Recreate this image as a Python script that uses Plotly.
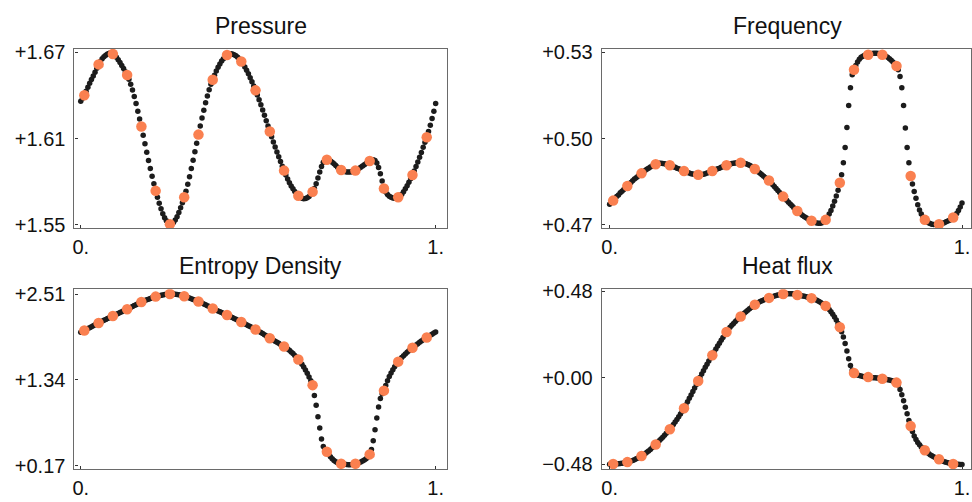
import numpy as np
import plotly.graph_objects as go

# ---------------- data ----------------
titles = ["Pressure", "Frequency", "Entropy Density", "Heat flux"]
x_fine = np.linspace(0, 1, 200)
sample_idx = list(range(2, 200, 8))  # coarse samples (25)

pressure_fine = [
    1.6360, 1.6382, 1.6402, 1.6430, 1.6458, 1.6485, 1.6512, 1.6537, 1.6562, 1.6590,
    1.6617, 1.6638, 1.6656, 1.6670, 1.6681, 1.6690, 1.6695, 1.6696, 1.6689, 1.6679,
    1.6666, 1.6650, 1.6631, 1.6610, 1.6588, 1.6566, 1.6543, 1.6513, 1.6479, 1.6439,
    1.6394, 1.6344, 1.6291, 1.6237, 1.6184, 1.6124, 1.6064, 1.6005, 1.5947, 1.5891,
    1.5837, 1.5785, 1.5736, 1.5691, 1.5649, 1.5611, 1.5577, 1.5549, 1.5528, 1.5514,
    1.5504, 1.5506, 1.5516, 1.5533, 1.5556, 1.5585, 1.5618, 1.5653, 1.5691, 1.5734,
    1.5782, 1.5835, 1.5891, 1.5949, 1.6008, 1.6068, 1.6128, 1.6187, 1.6244, 1.6298,
    1.6349, 1.6397, 1.6440, 1.6478, 1.6510, 1.6542, 1.6571, 1.6597, 1.6620, 1.6640,
    1.6657, 1.6671, 1.6682, 1.6689, 1.6692, 1.6690, 1.6685, 1.6677, 1.6667, 1.6653,
    1.6637, 1.6619, 1.6599, 1.6576, 1.6551, 1.6524, 1.6496, 1.6466, 1.6436, 1.6404,
    1.6370, 1.6335, 1.6299, 1.6262, 1.6225, 1.6188, 1.6150, 1.6113, 1.6077, 1.6042,
    1.6007, 1.5973, 1.5940, 1.5908, 1.5877, 1.5847, 1.5819, 1.5793, 1.5770, 1.5750,
    1.5732, 1.5716, 1.5702, 1.5691, 1.5684, 1.5681, 1.5682, 1.5688, 1.5697, 1.5711,
    1.5729, 1.5752, 1.5785, 1.5825, 1.5868, 1.5906, 1.5935, 1.5950, 1.5953, 1.5950,
    1.5944, 1.5935, 1.5925, 1.5913, 1.5901, 1.5890, 1.5881, 1.5875, 1.5871, 1.5868,
    1.5867, 1.5867, 1.5869, 1.5872, 1.5877, 1.5884, 1.5892, 1.5900, 1.5909, 1.5918,
    1.5927, 1.5936, 1.5944, 1.5950, 1.5953, 1.5948, 1.5930, 1.5898, 1.5855, 1.5805,
    1.5753, 1.5728, 1.5711, 1.5699, 1.5691, 1.5686, 1.5684, 1.5685, 1.5691, 1.5700,
    1.5713, 1.5730, 1.5750, 1.5772, 1.5796, 1.5821, 1.5847, 1.5875, 1.5905, 1.5937,
    1.5970, 1.6004, 1.6039, 1.6074, 1.6110, 1.6150, 1.6193, 1.6240, 1.6290, 1.6345,
]
frequency_fine = [
    0.4771, 0.4778, 0.4784, 0.4791, 0.4798, 0.4804, 0.4811, 0.4817, 0.4823, 0.4829,
    0.4835, 0.4841, 0.4847, 0.4853, 0.4859, 0.4864, 0.4869, 0.4874, 0.4879, 0.4884,
    0.4889, 0.4893, 0.4897, 0.4901, 0.4905, 0.4908, 0.4911, 0.4913, 0.4914, 0.4914,
    0.4913, 0.4912, 0.4911, 0.4909, 0.4907, 0.4905, 0.4902, 0.4900, 0.4897, 0.4895,
    0.4892, 0.4890, 0.4887, 0.4885, 0.4882, 0.4880, 0.4878, 0.4877, 0.4875, 0.4874,
    0.4874, 0.4874, 0.4875, 0.4876, 0.4878, 0.4880, 0.4882, 0.4885, 0.4887, 0.4890,
    0.4892, 0.4895, 0.4897, 0.4900, 0.4902, 0.4905, 0.4907, 0.4909, 0.4911, 0.4913,
    0.4914, 0.4915, 0.4916, 0.4916, 0.4916, 0.4915, 0.4914, 0.4912, 0.4910, 0.4907,
    0.4904, 0.4899, 0.4894, 0.4889, 0.4884, 0.4879, 0.4874, 0.4869, 0.4864, 0.4859,
    0.4854, 0.4847, 0.4840, 0.4833, 0.4826, 0.4819, 0.4812, 0.4805, 0.4798, 0.4791,
    0.4785, 0.4778, 0.4772, 0.4766, 0.4759, 0.4754, 0.4748, 0.4742, 0.4737, 0.4732,
    0.4728, 0.4724, 0.4720, 0.4717, 0.4714, 0.4711, 0.4708, 0.4706, 0.4705, 0.4705,
    0.4707, 0.4711, 0.4717, 0.4725, 0.4737, 0.4750, 0.4765, 0.4782, 0.4800, 0.4820,
    0.4846, 0.4874, 0.4916, 0.4969, 0.5039, 0.5115, 0.5177, 0.5222, 0.5240, 0.5255,
    0.5267, 0.5276, 0.5283, 0.5287, 0.5290, 0.5292, 0.5292, 0.5294, 0.5296, 0.5297,
    0.5297, 0.5297, 0.5296, 0.5294, 0.5292, 0.5290, 0.5287, 0.5283, 0.5278, 0.5273,
    0.5267, 0.5260, 0.5253, 0.5240, 0.5216, 0.5177, 0.5115, 0.5037, 0.4969, 0.4916,
    0.4870, 0.4842, 0.4816, 0.4792, 0.4770, 0.4751, 0.4737, 0.4726, 0.4717, 0.4711,
    0.4707, 0.4704, 0.4702, 0.4701, 0.4701, 0.4701, 0.4702, 0.4703, 0.4705, 0.4707,
    0.4710, 0.4713, 0.4716, 0.4720, 0.4725, 0.4731, 0.4739, 0.4750, 0.4762, 0.4776,
]
entropy_fine = [
    1.9880, 2.0010, 2.0135, 2.0262, 2.0389, 2.0515, 2.0642, 2.0769, 2.0895, 2.1022,
    2.1149, 2.1269, 2.1389, 2.1509, 2.1630, 2.1750, 2.1870, 2.1990, 2.2110, 2.2225,
    2.2341, 2.2456, 2.2571, 2.2686, 2.2802, 2.2917, 2.3032, 2.3154, 2.3276, 2.3398,
    2.3520, 2.3641, 2.3763, 2.3885, 2.4007, 2.4112, 2.4212, 2.4308, 2.4400, 2.4488,
    2.4576, 2.4661, 2.4744, 2.4815, 2.4878, 2.4933, 2.4980, 2.5020, 2.5052, 2.5076,
    2.5092, 2.5100, 2.5089, 2.5067, 2.5035, 2.4992, 2.4938, 2.4873, 2.4797, 2.4714,
    2.4628, 2.4540, 2.4451, 2.4360, 2.4269, 2.4178, 2.4086, 2.3976, 2.3865, 2.3750,
    2.3632, 2.3510, 2.3386, 2.3257, 2.3124, 2.3010, 2.2897, 2.2785, 2.2674, 2.2564,
    2.2455, 2.2348, 2.2242, 2.2130, 2.2015, 2.1897, 2.1776, 2.1653, 2.1530, 2.1405,
    2.1281, 2.1157, 2.1033, 2.0908, 2.0782, 2.0656, 2.0528, 2.0398, 2.0267, 2.0130,
    1.9990, 1.9847, 1.9701, 1.9552, 1.9399, 1.9241, 1.9081, 1.8940, 1.8799, 1.8658,
    1.8516, 1.8375, 1.8233, 1.8091, 1.7949, 1.7789, 1.7609, 1.7419, 1.7209, 1.6979,
    1.6729, 1.6469, 1.6184, 1.5874, 1.5534, 1.5154, 1.4734, 1.4284, 1.3794, 1.3264,
    1.2681, 1.1270, 0.9950, 0.8370, 0.6830, 0.5340, 0.4300, 0.3800, 0.3593, 0.3250,
    0.2930, 0.2650, 0.2420, 0.2230, 0.2090, 0.2000, 0.1960, 0.1920, 0.1880, 0.1850,
    0.1840, 0.1840, 0.1860, 0.1900, 0.1960, 0.2030, 0.2110, 0.2210, 0.2330, 0.2470,
    0.2640, 0.2880, 0.3238, 0.3900, 0.5100, 0.6600, 0.8200, 0.9700, 1.0850, 1.1500,
    1.1930, 1.2630, 1.3270, 1.3840, 1.4340, 1.4790, 1.5190, 1.5560, 1.5881, 1.6181,
    1.6451, 1.6701, 1.6931, 1.7151, 1.7361, 1.7561, 1.7764, 1.7959, 1.8149, 1.8334,
    1.8512, 1.8684, 1.8851, 1.9013, 1.9173, 1.9325, 1.9478, 1.9628, 1.9777, 1.9924,
]
heat_fine = [
    -0.4810, -0.4806, -0.4800, -0.4795, -0.4789, -0.4781, -0.4770, -0.4756, -0.4738, -0.4716,
    -0.4692, -0.4664, -0.4632, -0.4596, -0.4555, -0.4509, -0.4461, -0.4409, -0.4354, -0.4292,
    -0.4224, -0.4150, -0.4070, -0.3984, -0.3894, -0.3803, -0.3709, -0.3611, -0.3511, -0.3408,
    -0.3303, -0.3196, -0.3087, -0.2977, -0.2866, -0.2741, -0.2607, -0.2466, -0.2320, -0.2170,
    -0.2016, -0.1860, -0.1700, -0.1520, -0.1335, -0.1147, -0.0956, -0.0763, -0.0569, -0.0375,
    -0.0180, 0.0014, 0.0206, 0.0394, 0.0578, 0.0756, 0.0928, 0.1094, 0.1254, 0.1426,
    0.1596, 0.1762, 0.1924, 0.2084, 0.2240, 0.2394, 0.2544, 0.2679, 0.2803, 0.2917,
    0.3022, 0.3122, 0.3218, 0.3312, 0.3403, 0.3493, 0.3581, 0.3666, 0.3749, 0.3830,
    0.3910, 0.3988, 0.4064, 0.4128, 0.4186, 0.4238, 0.4285, 0.4327, 0.4367, 0.4405,
    0.4440, 0.4475, 0.4508, 0.4539, 0.4568, 0.4595, 0.4619, 0.4639, 0.4655, 0.4666,
    0.4673, 0.4675, 0.4672, 0.4665, 0.4652, 0.4631, 0.4601, 0.4584, 0.4566, 0.4546,
    0.4525, 0.4502, 0.4477, 0.4451, 0.4424, 0.4389, 0.4349, 0.4304, 0.4254, 0.4197,
    0.4134, 0.4067, 0.3994, 0.3904, 0.3794, 0.3669, 0.3529, 0.3374, 0.3204, 0.3019,
    0.2812, 0.2560, 0.2260, 0.1900, 0.1490, 0.1060, 0.0680, 0.0420, 0.0266, 0.0200,
    0.0155, 0.0120, 0.0095, 0.0075, 0.0060, 0.0047, 0.0035, 0.0025, 0.0015, 0.0005,
    -0.0005, -0.0016, -0.0028, -0.0041, -0.0056, -0.0072, -0.0090, -0.0110, -0.0132, -0.0158,
    -0.0188, -0.0226, -0.0271, -0.0400, -0.0650, -0.0950, -0.1280, -0.1640, -0.2000, -0.2380,
    -0.2689, -0.2989, -0.3239, -0.3439, -0.3599, -0.3729, -0.3849, -0.3949, -0.4032, -0.4122,
    -0.4204, -0.4276, -0.4341, -0.4399, -0.4449, -0.4494, -0.4531, -0.4581, -0.4626, -0.4666,
    -0.4701, -0.4731, -0.4758, -0.4781, -0.4800, -0.4810, -0.4815, -0.4818, -0.4820, -0.4821,
]

pressure_coarse = [1.6402, 1.6617, 1.6689, 1.6543, 1.6184, 1.5736, 1.5504, 1.5691, 1.6128,
                   1.6510, 1.6682, 1.6637, 1.6436, 1.6150, 1.5877, 1.5702, 1.5729, 1.5953,
                   1.5881, 1.5877, 1.5944, 1.5753, 1.5691, 1.5847, 1.6110]
frequency_coarse = [0.4784, 0.4835, 0.4879, 0.4911, 0.4907, 0.4887, 0.4874, 0.4887, 0.4907,
                    0.4916, 0.4894, 0.4854, 0.4798, 0.4748, 0.4714, 0.4717, 0.4846, 0.5240,
                    0.5292, 0.5292, 0.5253, 0.4870, 0.4717, 0.4702, 0.4725]
entropy_coarse = [2.0135, 2.1149, 2.2110, 2.3032, 2.4007, 2.4744, 2.5100, 2.4797, 2.4086,
                  2.3124, 2.2242, 2.1281, 2.0267, 1.9081, 1.7949, 1.6184, 1.2681, 0.3593,
                  0.1960, 0.1960, 0.3238, 1.1930, 1.5881, 1.7764, 1.9173]
heat_coarse = [-0.4800, -0.4692, -0.4354, -0.3709, -0.2866, -0.1700, -0.0180, 0.1254, 0.2544,
               0.3403, 0.4064, 0.4440, 0.4655, 0.4601, 0.4424, 0.3994, 0.2812, 0.0266,
               0.0035, -0.0056, -0.0271, -0.2689, -0.4032, -0.4531, -0.4800]

y_tickvals = [[1.55, 1.61, 1.67], [0.47, 0.50, 0.53], [0.17, 1.34, 2.51], [-0.48, 0.00, 0.48]]
y_ticktext = [["+1.55", "+1.61", "+1.67"], ["+0.47", "+0.50", "+0.53"],
              ["+0.17", "+1.34", "+2.51"], ["\u22120.48", "+0.00", "+0.48"]]
x_tickvals = [0, 1]
x_ticktext = ["0.", "1."]

fine_series = [pressure_fine, frequency_fine, entropy_fine, heat_fine]
coarse_series = [pressure_coarse, frequency_coarse, entropy_coarse, heat_coarse]

# ---------------- layout ----------------
W, H = 972, 502
FONT = "Liberation Sans, Arial, Helvetica, sans-serif"
FRAME = "#6a6a6a"
BLACK_DOT = "#1c1c1c"
ORANGE = "#FA8050"

x_domains = [[72.7 / W, 446 / W], [601.7 / W, 1.0], [72.7 / W, 446 / W], [601.7 / W, 1.0]]
y_domains = [[1 - 227 / H, 1 - 41.5 / H], [1 - 227 / H, 1 - 41.5 / H],
             [1 - 476 / H, 1 - 290 / H], [1 - 476 / H, 1 - 290 / H]]
x_ranges = [[-0.0177, 1.0309], [-0.0221, 1.0255], [-0.0177, 1.0309], [-0.0221, 1.0255]]
y_ranges = [[1.54751, 1.67236], [0.468755, 0.531178], [0.12654, 2.57584], [-0.50686, 0.49236]]

fig = go.Figure()
x_coarse = [x_fine[i] for i in sample_idx]

for p in range(4):
    ax = "" if p == 0 else str(p + 1)
    fig.add_trace(go.Scatter(
        x=x_fine, y=fine_series[p], mode="markers",
        marker=dict(size=5.5, color=BLACK_DOT, line=dict(width=0)),
        xaxis="x" + ax, yaxis="y" + ax, showlegend=False, hoverinfo="skip"))
    fig.add_trace(go.Scatter(
        x=x_coarse, y=coarse_series[p], mode="markers",
        marker=dict(size=10.5, color=ORANGE, line=dict(width=0)),
        xaxis="x" + ax, yaxis="y" + ax, showlegend=False, hoverinfo="skip"))

    common = dict(showline=True, linecolor=FRAME, linewidth=1.2, mirror=True,
                  showgrid=False, zeroline=False, ticks="inside", ticklen=3,
                  tickwidth=1, tickcolor="#333333",
                  tickfont=dict(family=FONT, size=20, color="#111111"))
    fig.layout["xaxis" + ax] = dict(
        common, domain=x_domains[p], range=x_ranges[p], anchor="y" + ax,
        tickmode="array", tickvals=x_tickvals, ticktext=x_ticktext, ticklabelstandoff=1)
    fig.layout["yaxis" + ax] = dict(
        common, domain=y_domains[p], range=y_ranges[p], anchor="x" + ax,
        tickmode="array", tickvals=y_tickvals[p], ticktext=y_ticktext[p], ticklabelstandoff=4)

    cx = (x_domains[p][0] * W + (x_domains[p][1] * W if p % 2 == 0 else 975)) / 2 / W
    fig.add_annotation(
        text=titles[p], x=cx, y=y_domains[p][1], xref="paper", yref="paper",
        xanchor="center", yanchor="bottom", yshift=8, showarrow=False,
        font=dict(family=FONT, size=23, color="#111111"))

fig.update_layout(
    width=W, height=H, margin=dict(l=0, r=0, t=0, b=0),
    paper_bgcolor="white", plot_bgcolor="white",
    font=dict(family=FONT),
)

fig.write_html("out.html")
